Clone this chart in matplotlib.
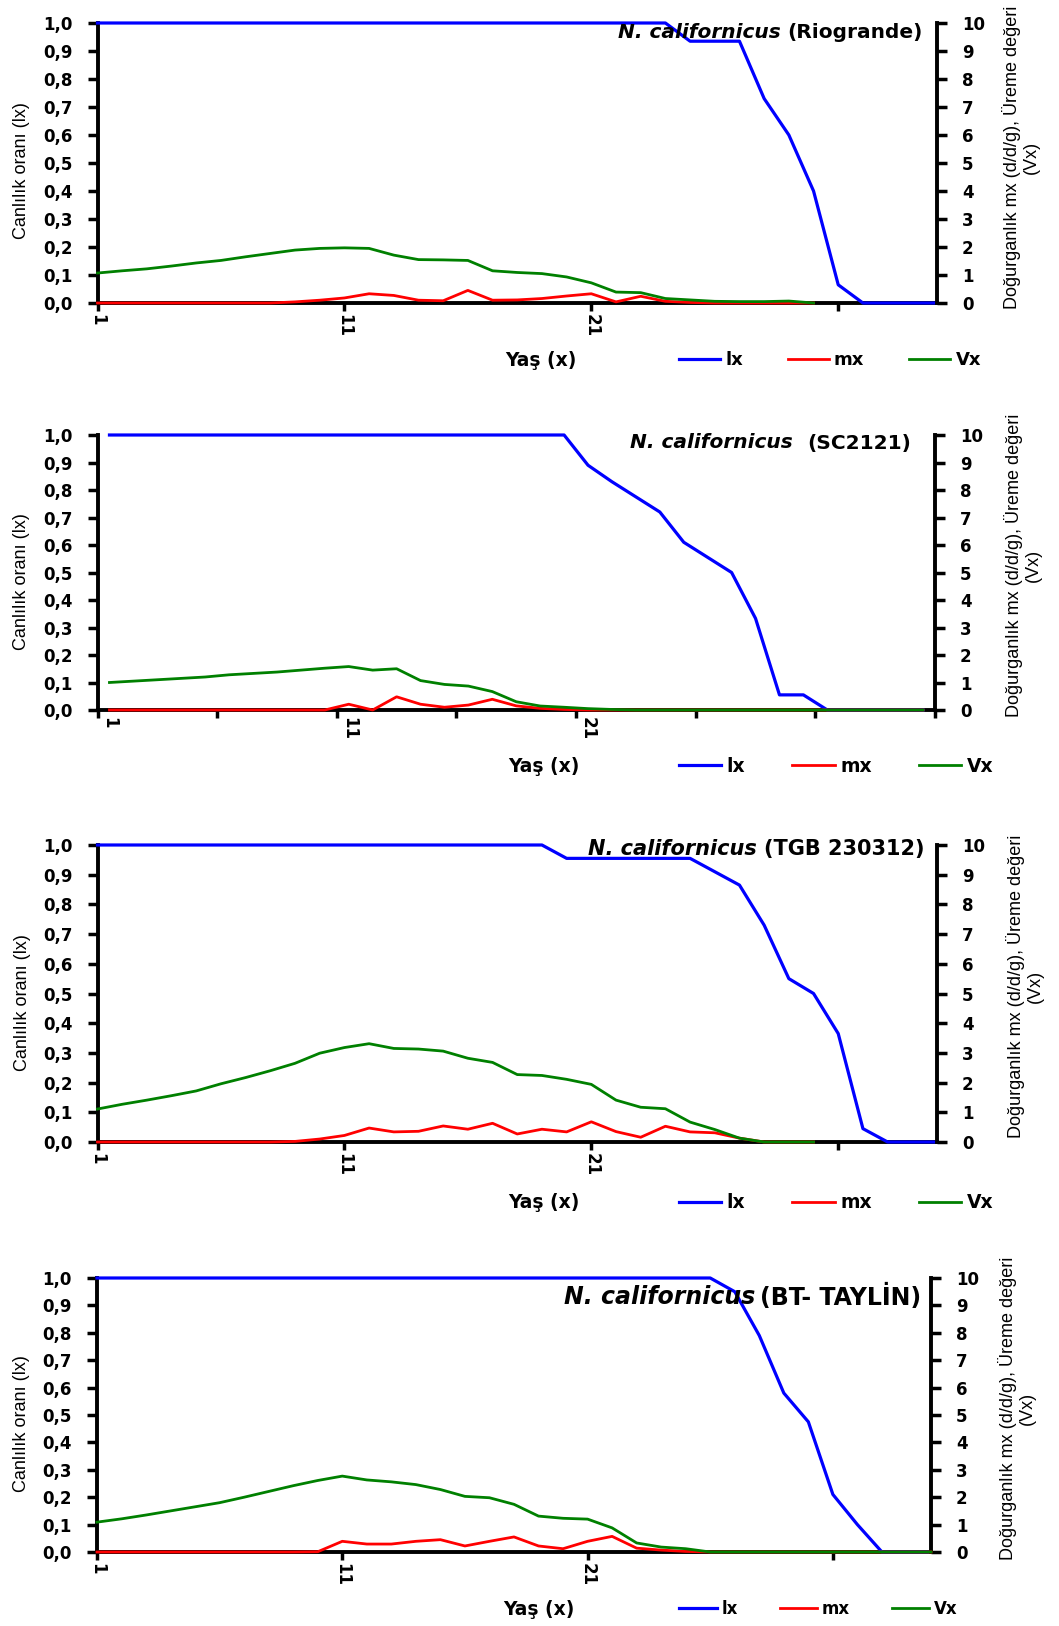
import matplotlib
matplotlib.use("Agg")
import matplotlib.pyplot as plt
from matplotlib import font_manager
import numpy as np

# yaş (gün) 1..35
days = np.arange(1, 36)

# N. californicus (Riogrande)
rio_lx = [1.0, 1.0, 1.0, 1.0, 1.0, 1.0, 1.0, 1.0, 1.0, 1.0, 1.0, 1.0, 1.0, 1.0, 1.0, 1.0,
          1.0, 1.0, 1.0, 1.0, 1.0, 1.0, 1.0, 1.0, 0.935, 0.935, 0.935, 0.73, 0.60, 0.40,
          0.065, 0.0, 0.0, 0.0, 0.0]
rio_mx = [0, 0, 0, 0, 0, 0, 0, 0, 0.04, 0.10, 0.18, 0.33, 0.27, 0.10, 0.08, 0.45, 0.10,
          0.11, 0.16, 0.25, 0.33, 0.04, 0.24, 0.06, 0.02, 0, 0, 0, 0, 0]
rio_vx = [1.07, 1.15, 1.22, 1.32, 1.43, 1.52, 1.65, 1.77, 1.89, 1.95, 1.97, 1.95, 1.71,
          1.55, 1.54, 1.52, 1.15, 1.09, 1.05, 0.93, 0.72, 0.39, 0.37, 0.16, 0.11, 0.06,
          0.05, 0.05, 0.07, 0.0]

# N. californicus (SC2121)
sc_lx = [1.0, 1.0, 1.0, 1.0, 1.0, 1.0, 1.0, 1.0, 1.0, 1.0, 1.0, 1.0, 1.0, 1.0, 1.0, 1.0,
         1.0, 1.0, 1.0, 1.0, 0.89, 0.83, 0.775, 0.72, 0.61, 0.555, 0.50, 0.333, 0.055,
         0.055, 0.0, 0.0, 0.0, 0.0, 0.0]
sc_mx = [0, 0, 0, 0, 0, 0, 0, 0, 0, 0, 0.21, 0.0, 0.48, 0.21, 0.10, 0.18, 0.39, 0.15,
         0.06, 0.02, 0, 0, 0, 0, 0, 0, 0, 0, 0, 0, 0, 0, 0, 0, 0]
sc_vx = [1.0, 1.05, 1.10, 1.15, 1.20, 1.28, 1.33, 1.38, 1.45, 1.52, 1.58, 1.45, 1.50,
         1.07, 0.93, 0.87, 0.67, 0.30, 0.145, 0.10, 0.05, 0.02, 0, 0, 0, 0, 0, 0, 0, 0,
         0, 0, 0, 0, 0]

# N. californicus (TGB 230312)
tgb_lx = [1.0, 1.0, 1.0, 1.0, 1.0, 1.0, 1.0, 1.0, 1.0, 1.0, 1.0, 1.0, 1.0, 1.0, 1.0, 1.0,
          1.0, 1.0, 1.0, 0.955, 0.955, 0.955, 0.955, 0.955, 0.955, 0.91, 0.865, 0.73,
          0.55, 0.50, 0.365, 0.045, 0.0, 0.0, 0.0]
tgb_mx = [0, 0, 0, 0, 0, 0, 0, 0, 0.02, 0.10, 0.22, 0.47, 0.34, 0.36, 0.54, 0.43, 0.63,
          0.27, 0.43, 0.34, 0.68, 0.35, 0.16, 0.53, 0.34, 0.31, 0.13, 0, 0, 0]
tgb_vx = [1.11, 1.27, 1.41, 1.56, 1.72, 1.96, 2.17, 2.40, 2.65, 2.99, 3.18, 3.31, 3.15,
          3.13, 3.06, 2.82, 2.68, 2.27, 2.24, 2.11, 1.94, 1.41, 1.17, 1.12, 0.67, 0.42,
          0.13, 0.0, 0.0, 0.0]

# N. californicus (BT- TAYLİN)
bt_lx = [1.0, 1.0, 1.0, 1.0, 1.0, 1.0, 1.0, 1.0, 1.0, 1.0, 1.0, 1.0, 1.0, 1.0, 1.0, 1.0,
         1.0, 1.0, 1.0, 1.0, 1.0, 1.0, 1.0, 1.0, 1.0, 1.0, 0.95, 0.79, 0.58, 0.475, 0.21,
         0.10, 0.0, 0.0, 0.0]
bt_mx = [0, 0, 0, 0, 0, 0, 0, 0, 0, 0.01, 0.39, 0.29, 0.29, 0.39, 0.45, 0.22, 0.39, 0.55,
         0.22, 0.12, 0.39, 0.57, 0.14, 0.07, 0.02, 0, 0, 0, 0, 0, 0, 0, 0, 0, 0]
bt_vx = [1.09, 1.21, 1.35, 1.50, 1.65, 1.80, 2.00, 2.21, 2.42, 2.61, 2.77, 2.63, 2.56,
         2.46, 2.28, 2.03, 1.98, 1.74, 1.31, 1.23, 1.20, 0.88, 0.33, 0.18, 0.12, 0, 0, 0,
         0, 0, 0, 0, 0, 0, 0]

strain_names = ["(Riogrande)", "(SC2121)", "(TGB 230312)", "(BT- TAYLİN)"]
x_ticks_lab = ["1", "11", "21"]
left_ticks = np.arange(0, 1.01, 0.1)
right_ticks = np.arange(0, 11, 1)

W, H = 1059, 1626
fig = plt.figure(figsize=(W / 100, H / 100), dpi=100)

# narrow font for the axis titles if there is one, else Liberation Sans a bit smaller
installed = {f.name for f in font_manager.fontManager.ttflist}
if "Liberation Sans Narrow" in installed:
    narrow, nsize = ["Liberation Sans Narrow", "DejaVu Sans"], 16
else:
    narrow, nsize = ["Liberation Sans", "DejaVu Sans"], 13

BLUE, RED, GREEN = "#0000ff", "#ff0000", "#008000"


def fx(x):
    return x / W


def fy(y):
    return 1 - y / H


# layout of each panel in pixels
panels = [
    dict(lx=rio_lx, mx=rio_mx, vx=rio_vx, name=strain_names[0], box=(97.5, 23, 937, 303),
         between=False, title_r=923, title_y=33, tsize=14.5, gap=" ",
         leg_y=360, yas_x=541, ll=(22, 171), rl=(1021, 157), lsize=13),
    dict(lx=sc_lx, mx=sc_mx, vx=sc_vx, name=strain_names[1], box=(97.5, 435, 935, 710),
         between=True, title_r=911, title_y=443, tsize=14.5, gap="  ",
         leg_y=766, yas_x=544, ll=(22, 582), rl=(1023, 565), lsize=13.5),
    dict(lx=tgb_lx, mx=tgb_mx, vx=tgb_vx, name=strain_names[2], box=(97.5, 845, 937, 1142),
         between=False, title_r=924, title_y=849, tsize=15, gap=" ",
         leg_y=1203, yas_x=544, ll=(23, 1003), rl=(1025, 986), lsize=13.5),
    dict(lx=bt_lx, mx=bt_mx, vx=bt_vx, name=strain_names[3], box=(97, 1278, 931, 1552),
         between=False, title_r=921, title_y=1297, tsize=17, gap="\u2009",
         leg_y=1609, yas_x=539, ll=(22, 1424), rl=(1017, 1408), lsize=12),
]

for p in panels:
    l, t, r, b = p["box"]
    ax = fig.add_axes([fx(l), fy(b), fx(r - l), (b - t) / H])
    ax2 = ax.twinx()

    hl, = ax.plot(days[:len(p["lx"])], p["lx"], color=BLUE, lw=2.3, zorder=3, clip_on=False)
    hm, = ax2.plot(days[:len(p["mx"])], p["mx"], color=RED, lw=2.0, zorder=3, clip_on=False)
    hv, = ax2.plot(days[:len(p["vx"])], p["vx"], color=GREEN, lw=2.0, zorder=3, clip_on=False)

    ax.set_ylim(0, 1)
    ax2.set_ylim(0, 10)

    if p["between"]:
        ax.set_xlim(0.5, 35.5)
        ax.set_xticks(np.arange(0.5, 36, 5))
        ax.set_xticklabels([])
        ax.set_xticks([1, 11, 21], minor=True)
        ax.set_xticklabels(x_ticks_lab, minor=True, rotation=-90, fontweight="bold",
                           fontsize=12, va="top", ha="center")
        ax.tick_params(axis="x", which="minor", length=0, pad=5)
    else:
        ax.set_xlim(1, 35)
        ax.set_xticks([1, 11, 21, 31])
        ax.set_xticklabels(x_ticks_lab + [""], rotation=-90, fontweight="bold",
                           fontsize=12, va="top", ha="center")
    ax.tick_params(axis="x", which="major", direction="out", length=6, width=2.5, pad=2)

    ax.set_yticks(left_ticks)
    ax.set_yticklabels([f"{v:.1f}".replace(".", ",") for v in left_ticks],
                       fontweight="bold", fontsize=12)
    ax.tick_params(axis="y", direction="out", length=7, width=2.5, pad=11)
    ax2.set_yticks(right_ticks)
    ax2.set_yticklabels([str(v) for v in right_ticks], fontweight="bold", fontsize=12)
    ax2.tick_params(axis="y", direction="out", length=7, width=2.5, pad=11)

    for s in ["top", "right"]:
        ax.spines[s].set_visible(False)
    for s in ["top", "left", "bottom"]:
        ax2.spines[s].set_visible(False)
    for s in ["left", "bottom"]:
        ax.spines[s].set_linewidth(2.8)
    ax2.spines["right"].set_linewidth(2.8)

    # title: italic species + strain
    t2 = fig.text(fx(p["title_r"]), fy(p["title_y"]), p["name"], ha="right", va="center",
                  fontsize=p["tsize"], fontweight="bold")
    ax2.annotate("N. californicus" + p["gap"], xy=(0, 0.5), xycoords=t2, ha="right",
                 va="center", fontsize=p["tsize"], fontweight="bold", style="italic")

    fig.text(fx(p["ll"][0]), fy(p["ll"][1]), "Canlılık oranı (lx)", rotation=90,
             ha="center", va="center", family=narrow, fontsize=nsize)
    fig.text(fx(p["rl"][0]), fy(p["rl"][1]), "Doğurganlık mx (d/d/g), Üreme değeri\n(Vx)",
             rotation=90, ha="center", va="center", multialignment="center",
             family=narrow, fontsize=nsize, linespacing=1.15)

    fig.text(fx(p["yas_x"]), fy(p["leg_y"]), "Yaş (x)", ha="center", va="center",
             fontweight="bold", fontsize=13.5)
    fig.legend([hl, hm, hv], ["lx", "mx", "Vx"], loc="center left",
               bbox_to_anchor=(fx(679), fy(p["leg_y"])), ncol=3, frameon=False,
               handlelength=2.25, handletextpad=0.3, columnspacing=2.5, borderpad=0,
               borderaxespad=0, prop=dict(weight="bold", size=p["lsize"]))

fig.savefig("out.png", dpi=100)
